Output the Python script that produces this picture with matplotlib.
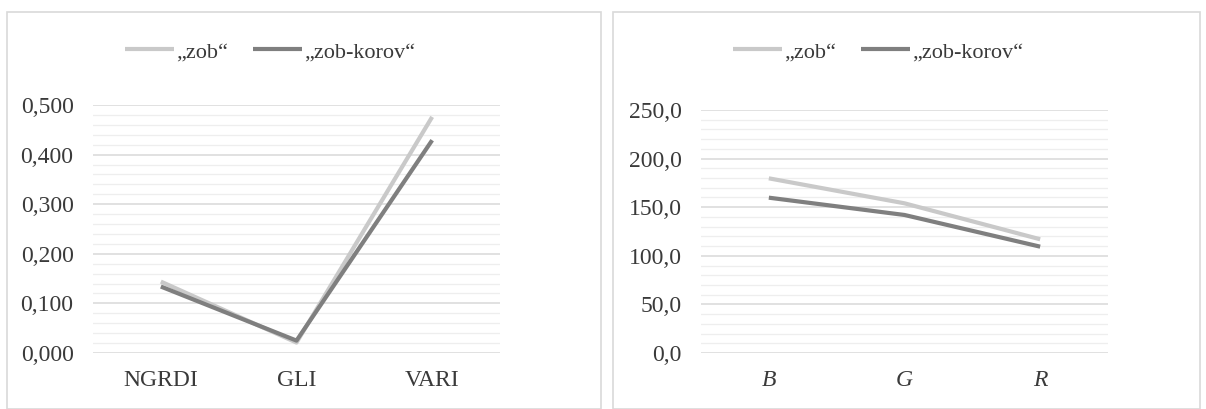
import matplotlib
matplotlib.use("Agg")
import matplotlib.pyplot as plt
from matplotlib.patches import Rectangle
from matplotlib.ticker import MultipleLocator, FuncFormatter

plt.rcParams['font.family'] = ['Liberation Serif', 'DejaVu Serif']

# Data
idx_categories = ["NGRDI", "GLI", "VARI"]
idx_zob = [0.144, 0.021, 0.476]
idx_zob_korov = [0.134, 0.025, 0.429]

rgb_categories = ["B", "G", "R"]
rgb_zob = [179.7, 154.0, 117.0]
rgb_zob_korov = [159.8, 142.0, 109.4]

series_labels = ["\u201ezob\u201c", "\u201ezob-korov\u201c"]

W, H = 1206, 409
fig = plt.figure(figsize=(W / 100, H / 100), dpi=100)
fig.patch.set_facecolor("white")

# Panel frames
for (x0, x1) in [(7, 601), (613, 1200)]:
    fig.add_artist(Rectangle((x0 / W, 0), (x1 - x0) / W, (H - 12) / H,
                             transform=fig.transFigure, fill=False,
                             edgecolor="#d9d9d9", linewidth=1.2))

c_light = "#c9c9c9"
c_dark = "#7f7f7f"


def setup(ax, cats, ys1, ys2, ymax, major, minor, fmt, italic, leg_x):
    x = list(range(len(cats)))
    l1, = ax.plot(x, ys1, color=c_light, lw=3, solid_capstyle="butt")
    l2, = ax.plot(x, ys2, color=c_dark, lw=3, solid_capstyle="butt")
    ax.set_xlim(-0.5, len(cats) - 0.5)
    ax.set_ylim(0, ymax)
    ax.yaxis.set_major_locator(MultipleLocator(major))
    ax.yaxis.set_minor_locator(MultipleLocator(minor))
    ax.yaxis.set_major_formatter(FuncFormatter(lambda v, p: fmt.format(v).replace(".", ",")))
    ax.grid(True, which="major", axis="y", color="#d9d9d9", lw=1.1)
    ax.grid(True, which="minor", axis="y", color="#eeeeee", lw=0.9)
    ax.set_axisbelow(True)
    for s in ax.spines.values():
        s.set_visible(False)
    ax.set_xticks(x)
    ax.set_xticklabels(cats, fontstyle="italic" if italic else "normal")
    ax.tick_params(axis="both", which="both", length=0, labelsize=17,
                   labelcolor="#3a3a3a")
    ax.tick_params(axis="y", pad=14)
    ax.tick_params(axis="x", pad=12)
    fig.legend([l1, l2], series_labels, loc="center",
               bbox_to_anchor=(leg_x / W, 1 - 52 / H), ncol=2, frameon=False,
               fontsize=16, handlelength=2.2, handletextpad=0.1,
               columnspacing=1.1, labelcolor="#3a3a3a")


ax1 = fig.add_axes([93 / W, (H - 353) / H, 407 / W, 248 / H])
setup(ax1, idx_categories, idx_zob, idx_zob_korov, 0.5, 0.1, 0.02,
      "{:.3f}", False, 270)

ax2 = fig.add_axes([701 / W, (H - 353) / H, 407 / W, 243 / H])
setup(ax2, rgb_categories, rgb_zob, rgb_zob_korov, 250, 50, 10,
      "{:.1f}", True, 878)

fig.savefig("out.png", dpi=100, facecolor="white")
